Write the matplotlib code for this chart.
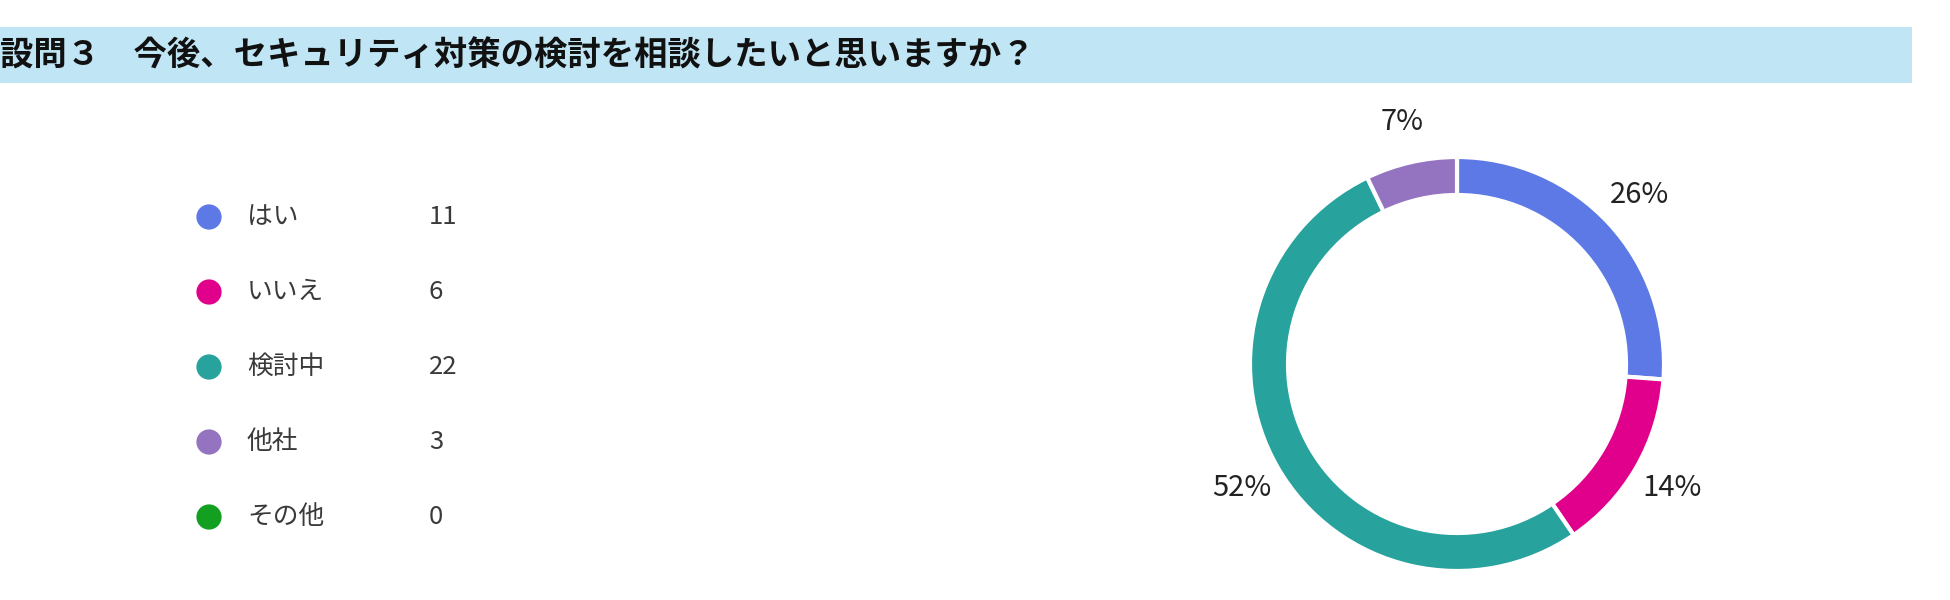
import matplotlib
matplotlib.use('Agg')
import matplotlib.pyplot as plt
from matplotlib.patches import Rectangle

plt.rcParams['font.family'] = ['Noto Sans CJK JP', 'DejaVu Sans']

# Data
title = '設問３　今後、セキュリティ対策の検討を相談したいと思いますか？'
categories = ['はい', 'いいえ', '検討中', '他社', 'その他']
counts = [11, 6, 22, 3, 0]
colors = ['#5c79e6', '#e0008c', '#27a29c', '#9474c0', '#139f1f']

W, H = 1950, 600
fig = plt.figure(figsize=(W / 100, H / 100), dpi=100)
fig.patch.set_facecolor('white')

# overlay axes in pixel coordinates (y down) for the title bar and legend
bg = fig.add_axes([0, 0, 1, 1])
bg.set_xlim(0, W)
bg.set_ylim(H, 0)
bg.axis('off')

bg.add_patch(Rectangle((0, 27), 1912, 56, facecolor='#c0e5f4', edgecolor='none'))
bg.text(0, 56, title, fontsize=24, fontweight='bold', color='#111111',
        ha='left', va='center')

# legend list
for i, (cat, n, c) in enumerate(zip(categories, counts, colors)):
    y = 217 + 75 * i
    bg.scatter([209], [y], s=330, color=c, edgecolors='none')
    bg.text(247, y, cat, fontsize=18.5, color='#3a3a3a', ha='left', va='center')
    bg.text(429, y, str(n), fontsize=18.5, color='#3a3a3a', ha='left', va='center')

# donut
cx, cy, r = 1457, 364, 207
half = 290
ax = fig.add_axes([(cx - half) / W, (H - cy - half) / H, 2 * half / W, 2 * half / H])
vals = [v for v in counts if v > 0]
cols = [c for v, c in zip(counts, colors) if v > 0]
total = sum(counts)
pct_labels = [f'{round(v / total * 100)}%' for v in vals]

wedges, texts = ax.pie(vals, colors=cols, labels=pct_labels, startangle=90,
                       counterclock=False, labeldistance=1.2,
                       wedgeprops=dict(width=38 / r, edgecolor='white', linewidth=3),
                       textprops=dict(fontsize=21, color='#222222'))
for t in texts:
    t.set_horizontalalignment('center')
    t.set_verticalalignment('center')
lim = half / r
ax.set_xlim(-lim, lim)
ax.set_ylim(-lim, lim)
ax.set_aspect('equal')
ax.axis('off')

fig.savefig('out.png', dpi=100, facecolor='white')
